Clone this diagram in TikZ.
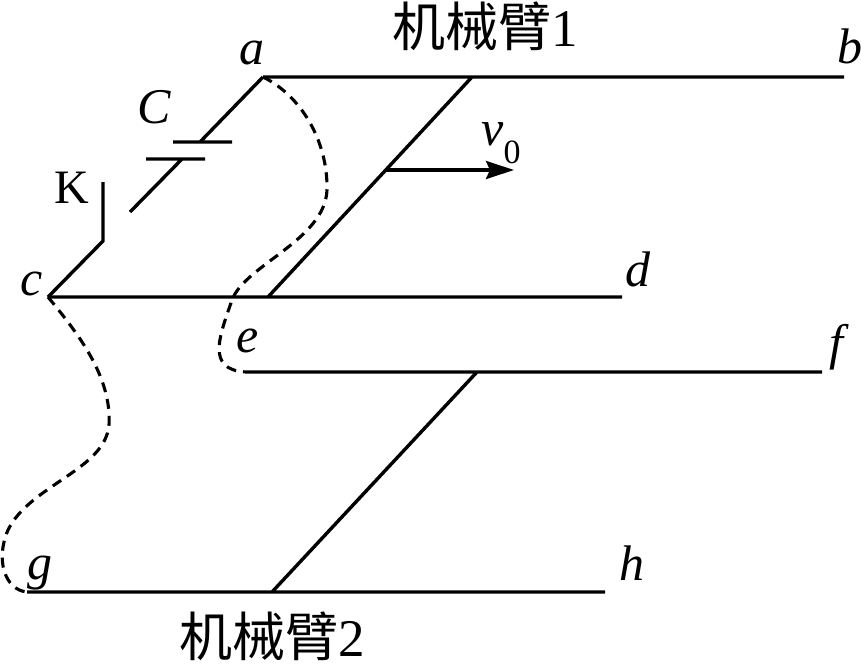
\documentclass[tikz,border=0pt]{standalone}
\usepackage{fontspec}
\setmainfont{Liberation Serif}
\newfontfamily\cjk{Noto Sans CJK SC}[Scale=1]
\usetikzlibrary{arrows.meta}
\begin{document}
\begin{tikzpicture}[x=1pt,y=-1pt,
  wire/.style={line width=3.4pt,black},
  dash wire/.style={line width=3.1pt,black,dash pattern=on 10pt off 7pt},
  lab/.style={font=\fontsize{50}{50}\selectfont\itshape,inner sep=0pt},
  labr/.style={font=\fontsize{48}{48}\selectfont,inner sep=0pt},
  cn/.style={font=\fontsize{53}{53}\selectfont,inner sep=0pt}]
\useasboundingbox (0,0) rectangle (861,666);
\coordinate (A) at (263,77);
\coordinate (B) at (844,77);
\coordinate (C) at (48,297);
\coordinate (D) at (622,297);
\coordinate (E) at (246,372);
\coordinate (F) at (822,372);
\coordinate (G) at (27,592);
\coordinate (H) at (605,592);
\coordinate (R1a) at (472,77);
\coordinate (R1b) at (268,297);
\coordinate (R2a) at (477,372);
\coordinate (R2b) at (272,592);
\coordinate (M) at (385,170);
\coordinate (V) at (514,170);
\coordinate (P1) at (200,142);
\coordinate (P2) at (182,159);
\draw[wire] (A)--(B) (C)--(D) (E)--(F) (G)--(H) (R1a)--(R1b) (R2a)--(R2b);
\draw[wire] (A)--(P1) (173,142)--(232,142) (146,159)--(205,159) (P2)--(130,212);
\draw[wire] (C)--(103,241)--(103,182);
\draw[wire,-{Stealth[length=28pt,width=18pt,inset=4pt]}] (M)--(V);
\draw[dash wire] (A) .. controls (300,95) and (328,140) .. (327,190) .. controls (325,240) and (245,265) .. (232,300) .. controls (220,335) and (205,370) .. (E);
\draw[dash wire] (C) .. controls (75,330) and (112,375) .. (109,425) .. controls (105,470) and (30,485) .. (8,530) .. controls (-5,560) and (5,590) .. (G);
\node[lab] (la) at (252,53) {a};
\node[lab] (lb) at (850,46) {b};
\node[lab] (lc) at (32,284) {c};
\node[lab] (ld) at (638,269) {d};
\node[lab] (le) at (248,341) {e};
\node[lab] (lf) at (836,347) {f};
\node[lab] (lg) at (40,573) {g};
\node[lab] (lh) at (632,563) {h};
\node[lab] (lC) at (154,107) {C};
\node[labr] (lK) at (72,188) {K};
\node[lab] (lv) at (493,134) {v};
\node[labr,font=\fontsize{34}{34}\selectfont] (l0) at (512,152) {0};
\node[cn] (arm1) at (485,26) {{\cjk 机械臂}1};
\node[cn] (arm2) at (272,636) {{\cjk 机械臂}2};
\end{tikzpicture}
\end{document}
